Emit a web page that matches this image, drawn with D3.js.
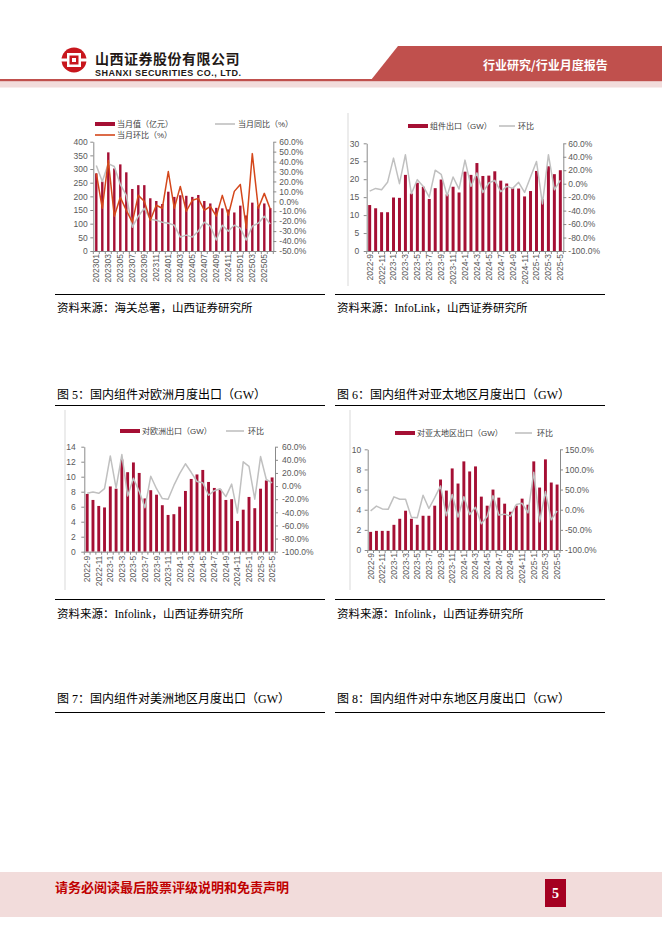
<!DOCTYPE html>
<html><head><meta charset="utf-8">
<script src="https://cdn.jsdelivr.net/npm/d3@7"></script>
<style>body{margin:0;background:#fff}svg{display:block}</style>
</head><body><svg id="page" width="662" height="936"></svg>
<script>
// ---------- data ----------
const c1Months = ["202301","202302","202303","202304","202305","202306","202307","202308","202309","202310","202311","202312",
  "202401","202402","202403","202404","202405","202406","202407","202408","202409","202410","202411","202412",
  "202501","202502","202503","202504","202505","202506"];
const c1Value = [284,254,361,302,317,288,227,241,241,193,183,172,217,198,204,202,198,205,183,174,158,156,152,141,166,130,177,164,174,157];
const c1YoY = [36,20,38,35,17,6,-26,-15,-7,-18,-19,-21,-22,-24,-36,-34,-36,-30,-21,-25,-39,-24,-30,-24,-27,-39,-25,-22,-15,-23];
const c1MoM = [28,-7,41,-15,4,-9,-21,6,0,-19,-4,-7,30,-7,15,-10,1,3,-9,-5,-15,6,-14,10,17,-27,48,-7,8,-8];

const months = ["2022-9","2022-10","2022-11","2022-12","2023-1","2023-2","2023-3","2023-4","2023-5","2023-6","2023-7","2023-8",
  "2023-9","2023-10","2023-11","2023-12","2024-1","2024-2","2024-3","2024-4","2024-5","2024-6","2024-7","2024-8",
  "2024-9","2024-10","2024-11","2024-12","2025-1","2025-2","2025-3","2025-4","2025-5"];
const c2Module = [12.8,11.9,10.8,10.8,14.9,14.8,21.2,16.0,19.0,17.9,14.5,17.5,19.9,15.8,17.9,16.3,22.1,21.2,24.5,20.9,21.0,22.2,19.6,18.8,17.5,17.4,15.2,16.7,22.3,14.5,23.6,21.4,22.5];
const c2MoM = [-11,-7,-9,2,38,0,43,-15,6,-4,-20,20,14,-18,10,-8,35,-4,16,-13,1,5,-12,-4,-7,2,-13,10,33,-30,43,-9,5];
const c3Europe = [7.7,6.9,6.1,5.9,8.7,8.4,12.3,10.6,11.9,10.5,7.1,8.2,7.6,6.2,4.9,5.0,6.0,8.1,9.7,10.3,10.9,9.3,8.5,8.3,6.9,7.0,4.1,5.6,7.3,5.8,8.4,9.5,9.9];
const c3MoM = [-11,-9,-11,-4,46,-3,48,-15,12,-8,-33,15,-4,-19,-20,1,19,34,21,7,5,-14,-7,-4,-16,3,-41,37,30,-20,45,10,5];
const c4Apac = [1.8,1.9,1.9,1.9,2.5,3.1,3.9,3.1,2.5,3.4,3.4,4.4,7.0,5.9,8.1,6.6,8.8,7.8,8.3,5.3,4.4,6.0,5.2,4.6,3.8,4.4,5.1,4.5,8.8,6.2,9.0,6.7,6.5];
const c4MoM = [-3,9,2,1,32,26,26,-19,-20,36,3,30,59,-15,38,-18,32,-12,6,-35,-17,35,-13,-11,-16,13,16,-8,93,-30,45,-25,-3];

const c1LeftTicks = [0,50,100,150,200,250,300,350,400];
const c1RightTicks = [-50,-40,-30,-20,-10,0,10,20,30,40,50,60];
const c2LeftTicks = [0,5,10,15,20,25,30];
const pctTicks160 = [-100,-80,-60,-40,-20,0,20,40,60];
const c3LeftTicks = [0,2,4,6,8,10,12,14];
const c4LeftTicks = [0,2,4,6,8,10];
const c4RightTicks = [-100,-50,0,50,100,150];

// ---------- styles ----------
const BAR = "#a50f34", GRAY = "#c0c0c0", ORANGE = "#d4471b", RED = "#c0504d", PINK = "#f2dcdb";
const AX = "#8a8a8a", TXT = "#595959";
const SANS = "'Liberation Sans', Arial, 'Noto Sans CJK SC', sans-serif";
const CJK = "'Liberation Serif', 'Noto Sans CJK SC', serif";

const svg = d3.select("#page");
svg.append("rect").attr("width",662).attr("height",936).attr("fill","#fff");

// ---------- header ----------
svg.append("polygon").attr("points","398,46 662,46 662,80 371,80").attr("fill",RED);
svg.append("rect").attr("x",0).attr("y",79).attr("width",662).attr("height",2.5).attr("fill",RED);
svg.append("rect").attr("x",0).attr("y",81.5).attr("width",662).attr("height",6).attr("fill",PINK);
svg.append("text").attr("x",483).attr("y",70).attr("fill","#fff").attr("font-size",12).attr("font-weight","bold")
  .attr("font-family","'Noto Sans CJK SC', sans-serif").text("行业研究/行业月度报告");
// logo
const lg = svg.append("g");
lg.append("circle").attr("cx",74).attr("cy",60).attr("r",12.5).attr("fill","#c8161d");
lg.append("rect").attr("x",67).attr("y",53).attr("width",14).attr("height",14).attr("fill","#fff");
lg.append("rect").attr("x",69.5).attr("y",55.5).attr("width",9).attr("height",9).attr("fill","#c8161d");
lg.append("rect").attr("x",72).attr("y",58).attr("width",4).attr("height",4).attr("fill","#fff");
lg.append("rect").attr("x",61).attr("y",58.5).attr("width",6).attr("height",3).attr("fill","#fff");
lg.append("rect").attr("x",81).attr("y",58.5).attr("width",6).attr("height",3).attr("fill","#fff");
svg.append("text").attr("x",95).attr("y",64).attr("font-size",14).attr("font-weight","bold").attr("letter-spacing",0.5)
  .attr("fill","#231815").attr("font-family","'Noto Sans CJK SC', sans-serif").text("山西证券股份有限公司");
svg.append("text").attr("x",95).attr("y",76).attr("font-size",9).attr("font-weight","bold").attr("textLength",146)
  .attr("fill","#231815").attr("font-family",SANS).text("SHANXI SECURITIES CO., LTD.");

// ---------- footer ----------
svg.append("rect").attr("x",0).attr("y",872).attr("width",662).attr("height",45).attr("fill",PINK);
svg.append("text").attr("x",55).attr("y",892).attr("font-size",13).attr("font-weight","bold").attr("fill","#c00000")
  .attr("font-family","'Noto Sans CJK SC', sans-serif").text("请务必阅读最后股票评级说明和免责声明");
svg.append("rect").attr("x",545).attr("y",879).attr("width",21).attr("height",28).attr("fill","#a50021");
svg.append("text").attr("x",555.5).attr("y",898).attr("text-anchor","middle").attr("font-size",14).attr("font-weight","bold")
  .attr("fill","#fff").attr("font-family","'Liberation Serif', serif").text("5");

// ---------- body texts / rules ----------
function hline(x1,x2,y,col,w){svg.append("line").attr("x1",x1).attr("x2",x2).attr("y1",y).attr("y2",y).attr("stroke",col).attr("stroke-width",w);}
function vline(x,y1,y2){svg.append("line").attr("x1",x).attr("x2",x).attr("y1",y1).attr("y2",y2).attr("stroke","#d9d9d9").attr("stroke-width",1);}
function txt(x,y,s,size){svg.append("text").attr("x",x).attr("y",y).attr("font-size",size).attr("fill","#000").attr("font-family",CJK).text(s);}
hline(55,325,294.5,"#000",1); hline(335,605,294.5,"#000",1);
txt(57,312,"资料来源：海关总署，山西证券研究所",11.5);
txt(337,312,"资料来源：InfoLink，山西证券研究所",11.5);
txt(57,399,"图 5：国内组件对欧洲月度出口（GW）",12);
txt(337,399,"图 6：国内组件对亚太地区月度出口（GW）",12);
hline(55,325,405.5,"#000",1); hline(335,605,405.5,"#000",1);
hline(55,325,599.5,"#000",1); hline(335,605,599.5,"#000",1);
txt(57,618,"资料来源：Infolink，山西证券研究所",11.5);
txt(337,618,"资料来源：Infolink，山西证券研究所",11.5);
txt(57,703,"图 7：国内组件对美洲地区月度出口（GW）",12);
txt(337,703,"图 8：国内组件对中东地区月度出口（GW）",12);
hline(55,325,712.5,"#000",1); hline(335,605,712.5,"#000",1);
vline(348,113,286); vline(65,410,590); vline(350,410,590);

// ---------- chart builder ----------
function drawChart(o){
  const g = svg.append("g");
  const x = d3.scaleBand().domain(o.cats).range([o.x0,o.x1]);
  const yL = d3.scaleLinear().domain(o.leftDomain).range([o.yB,o.yT]);
  const yR = d3.scaleLinear().domain(o.rightDomain).range([o.yB,o.yT]);
  const bw = x.bandwidth()*o.barFrac;
  const cx = i => x(o.cats[i]) + x.bandwidth()/2;
  g.selectAll("rect.bar").data(o.bars).join("rect").attr("class","bar")
    .attr("x",(d,i)=>cx(i)-bw/2).attr("y",d=>yL(d)).attr("width",bw).attr("height",d=>yL(0)-yL(d)).attr("fill",BAR);
  o.lines.forEach(l=>{
    const line = d3.line().x((d,i)=>cx(i)).y(d=>yR(d));
    g.append("path").datum(l.data).attr("d",line).attr("fill","none").attr("stroke",l.color).attr("stroke-width",l.w||1.5).attr("stroke-linejoin","round");
  });
  const style = sel => {
    sel.select(".domain").attr("stroke",AX);
    sel.selectAll(".tick line").attr("stroke",AX);
    sel.selectAll("text").attr("fill",TXT).attr("font-size",8.5).attr("font-family",SANS);
  };
  g.append("g").attr("transform",`translate(${o.x0},0)`)
    .call(d3.axisLeft(yL).tickValues(o.leftTicks).tickSize(3).tickSizeOuter(0).tickPadding(o.padL)).call(style);
  g.append("g").attr("transform",`translate(${o.x1},0)`)
    .call(d3.axisRight(yR).tickValues(o.rightTicks).tickSize(3).tickSizeOuter(0).tickPadding(o.padR).tickFormat(d=>d.toFixed(1)+"%")).call(style);
  const gb = g.append("g").attr("transform",`translate(0,${o.yB})`)
    .call(d3.axisBottom(x).tickSize(0).tickSizeOuter(0).tickFormat((d,i)=> i%2===0 ? d : "")).call(style);
  gb.selectAll(".tick text").attr("transform","rotate(-90)").attr("text-anchor","end")
    .attr("x",-o.labelGap).attr("y",0).attr("dy","0.35em");
  const step = x.step();
  g.selectAll("line.bt").data(d3.range(o.cats.length+1)).join("line").attr("class","bt")
    .attr("x1",i=>o.x0+i*step).attr("x2",i=>o.x0+i*step).attr("y1",o.yB).attr("y2",o.yB+3).attr("stroke",AX);
  // legend
  o.legend.forEach(L=>{
    if(L.type==="bar") g.append("rect").attr("x",L.x).attr("y",L.y-2).attr("width",20).attr("height",4).attr("fill",BAR);
    else g.append("line").attr("x1",L.x).attr("x2",L.x+L.len).attr("y1",L.y).attr("y2",L.y).attr("stroke",L.color).attr("stroke-width",1.6);
    g.append("text").attr("x",L.tx).attr("y",L.y).attr("dy","0.35em").attr("font-size",8).attr("fill","#404040")
      .attr("font-family","'Liberation Sans', 'Noto Sans CJK SC', sans-serif").text(L.label);
  });
}

drawChart({cats:c1Months,bars:c1Value,x0:93.3,x1:273.3,yT:141.7,yB:251,leftDomain:[0,400],rightDomain:[-50,60],
  leftTicks:c1LeftTicks,rightTicks:c1RightTicks,padL:2.5,padR:3,barFrac:0.4,labelGap:3,
  lines:[{data:c1YoY,color:GRAY},{data:c1MoM,color:ORANGE}],
  legend:[{type:"bar",x:95,y:124,tx:117,label:"当月值（亿元）"},
          {type:"line",x:215,len:20,y:124,color:GRAY,tx:238,label:"当月同比（%）"},
          {type:"line",x:95,len:20,y:135,color:ORANGE,tx:117,label:"当月环比（%）"}]});

drawChart({cats:months,bars:c2Module,x0:366.7,x1:563.3,yT:143.3,yB:251,leftDomain:[0,30],rightDomain:[-100,60],
  leftTicks:c2LeftTicks,rightTicks:pctTicks160,padL:4.5,padR:2,barFrac:0.5,labelGap:3,
  lines:[{data:c2MoM,color:GRAY}],
  legend:[{type:"bar",x:408,y:126,tx:430,label:"组件出口（GW）"},
          {type:"line",x:499,len:16,y:126,color:GRAY,tx:518,label:"环比"}]});

drawChart({cats:months,bars:c3Europe,x0:84.3,x1:275,yT:446.7,yB:551.7,leftDomain:[0,14],rightDomain:[-100,60],
  leftTicks:c3LeftTicks,rightTicks:pctTicks160,padL:5.5,padR:4,barFrac:0.5,labelGap:4,
  lines:[{data:c3MoM,color:GRAY}],
  legend:[{type:"bar",x:120,y:431,tx:142,label:"对欧洲出口（GW）"},
          {type:"line",x:226,len:18,y:431,color:GRAY,tx:248,label:"环比"}]});

drawChart({cats:months,bars:c4Apac,x0:367.7,x1:560,yT:449.3,yB:550,leftDomain:[0,10],rightDomain:[-100,150],
  leftTicks:c4LeftTicks,rightTicks:c4RightTicks,padL:3.5,padR:2,barFrac:0.5,labelGap:3,
  lines:[{data:c4MoM,color:GRAY}],
  legend:[{type:"bar",x:395,y:433,tx:417,label:"对亚太地区出口（GW）"},
          {type:"line",x:515,len:17,y:433,color:GRAY,tx:537,label:"环比"}]});
</script></body></html>
